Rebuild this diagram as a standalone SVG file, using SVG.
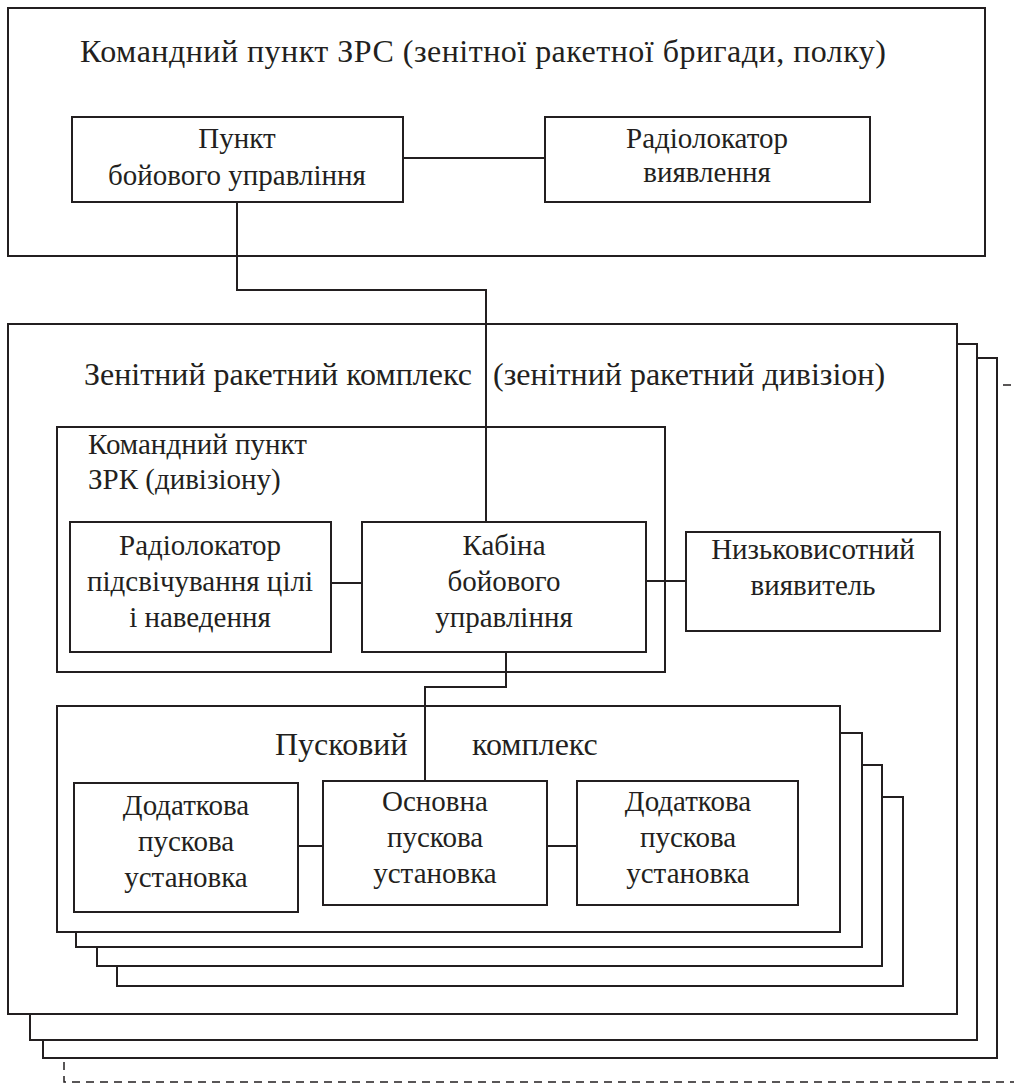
<svg xmlns="http://www.w3.org/2000/svg" width="1014" height="1084" viewBox="0 0 1014 1084" font-family="'Liberation Serif', 'DejaVu Serif', serif">
<style>
.b{fill:#fff;stroke:#231f20;stroke-width:2}
.l{fill:none;stroke:#231f20;stroke-width:2}
.d{fill:none;stroke:#231f20;stroke-width:1.5;stroke-dasharray:8 6}
text{font-family:'Liberation Serif','DejaVu Serif',serif;font-size:29px;fill:#231f20}
.c{text-anchor:middle}
.t{font-size:32px}
</style>
<rect width="1014" height="1084" fill="#fff"/>
<g id="cp-zrs">
<rect class="b" x="8" y="8" width="977" height="248"/>
<text class="t" x="80" y="62" textLength="806" lengthAdjust="spacing">Командний пункт ЗРС (зенітної ракетної бригади, полку)</text>
</g>
<g id="pbu">
<rect class="b" x="72" y="117" width="331" height="85"/>
<text class="c" x="237" y="148">Пункт</text>
<text class="c" x="237" y="185">бойового управління</text>
</g>
<g id="rlv">
<rect class="b" x="545" y="117" width="325" height="85"/>
<text class="c" x="707" y="148">Радіолокатор</text>
<text class="c" x="707" y="182">виявлення</text>
</g>
<g id="zrk-stack">
<path class="d" d="M1003 385 H1014 M64 1062 V1082 H1014"/>
<rect class="b" x="43" y="358" width="954" height="700"/>
<rect class="b" x="30" y="344" width="947" height="696"/>
</g>
<g id="zrk">
<rect class="b" x="8" y="324" width="949" height="690"/>
<text class="t" x="84" y="385">Зенітний ракетний комплекс</text>
<text class="t" x="493" y="385">(зенітний ракетний дивізіон)</text>
</g>
<g id="cp-zrk">
<rect class="b" x="57" y="427" width="608" height="245"/>
<text x="88" y="454">Командний пункт</text>
<text x="88" y="489">ЗРК (дивізіону)</text>
</g>
<g id="rlpn">
<rect class="b" x="70" y="522" width="261" height="130"/>
<text class="c" x="200" y="555">Радіолокатор</text>
<text class="c" x="200" y="591">підсвічування цілі</text>
<text class="c" x="200" y="627">і наведення</text>
</g>
<g id="kbu">
<rect class="b" x="362" y="522" width="284" height="130"/>
<text class="c" x="504" y="555">Кабіна</text>
<text class="c" x="504" y="591">бойового</text>
<text class="c" x="504" y="627">управління</text>
</g>
<g id="nvv">
<rect class="b" x="686" y="532" width="254" height="99"/>
<text class="c" x="813" y="559">Низьковисотний</text>
<text class="c" x="813" y="595">виявитель</text>
</g>
<g id="pk-stack">
<rect class="b" x="117" y="797" width="786" height="189"/>
<rect class="b" x="97" y="765" width="785" height="201"/>
<rect class="b" x="76" y="733" width="786" height="214"/>
</g>
<g id="pk">
<rect class="b" x="57" y="706" width="783" height="226"/>
<text class="t" x="275" y="755">Пусковий</text>
<text class="t" x="472" y="755">комплекс</text>
</g>
<g id="dpu1">
<rect class="b" x="74" y="783" width="224" height="129"/>
<text class="c" x="186" y="815">Додаткова</text>
<text class="c" x="186" y="851">пускова</text>
<text class="c" x="186" y="887">установка</text>
</g>
<g id="opu">
<rect class="b" x="323" y="781" width="224" height="124"/>
<text class="c" x="435" y="811">Основна</text>
<text class="c" x="435" y="847">пускова</text>
<text class="c" x="435" y="883">установка</text>
</g>
<g id="dpu2">
<rect class="b" x="577" y="781" width="221" height="124"/>
<text class="c" x="688" y="811">Додаткова</text>
<text class="c" x="688" y="847">пускова</text>
<text class="c" x="688" y="883">установка</text>
</g>
<g id="connectors">
<path class="l" d="M403 158 H545"/>
<path class="l" d="M237 202 V290 H486 V522"/>
<path class="l" d="M331 583 H362"/>
<path class="l" d="M646 581 H686"/>
<path class="l" d="M506 652 V687 H425 V781"/>
<path class="l" d="M298 846 H323"/>
<path class="l" d="M547 846 H577"/>
</g>
</svg>
